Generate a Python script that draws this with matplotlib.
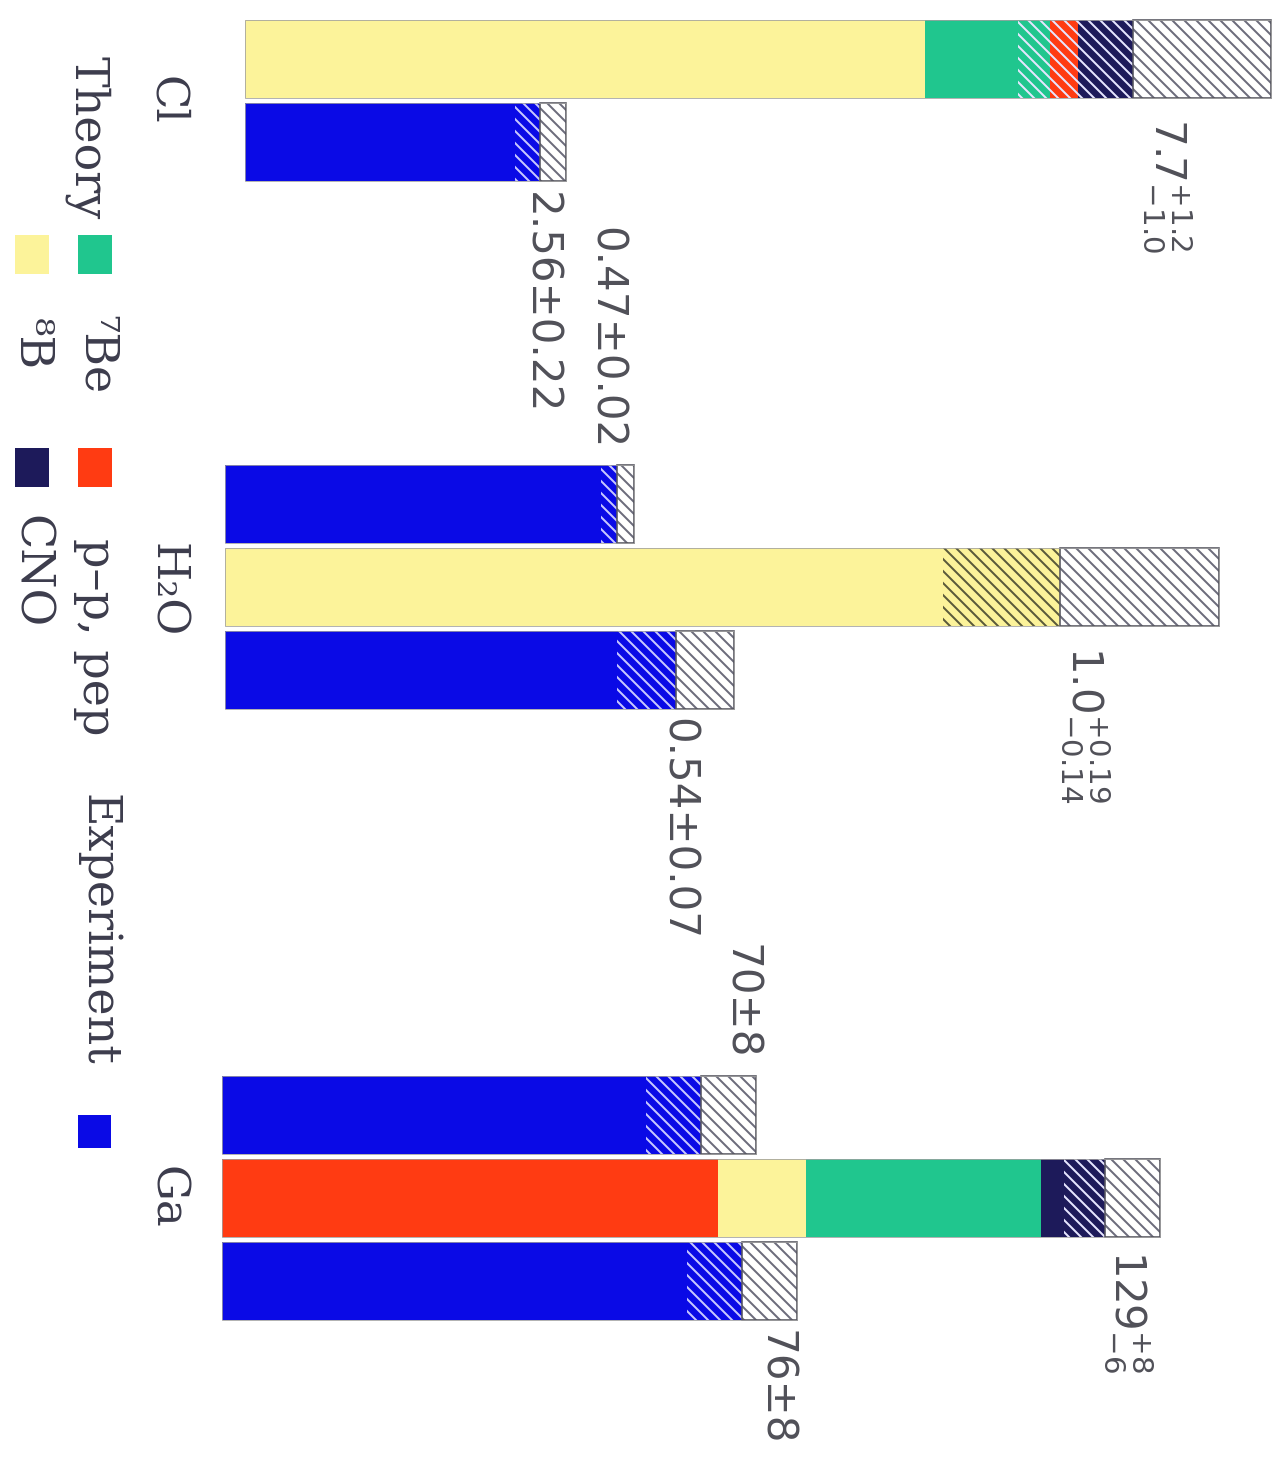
import matplotlib.pyplot as plt
from matplotlib.patches import Rectangle

W, H = 1288, 1462
DPI = 72

# neutrino source colours
colors = {'8B': '#fcf39a', '7Be': '#20c68e', 'pp': '#ff3b12', 'CNO': '#1d1a5a'}
exp_color = '#0a0ae6'

# chlorine (SNU)
cl_sources = ['8B', '7Be', 'pp', 'CNO']
cl_theory = [5.9, 1.08, 0.24, 0.48]
cl_err = (1.2, 1.0)
cl_exp = [2.56]
cl_exp_err = [0.22]
cl_labels = ['7.7$^{+1.2}_{-1.0}$', '2.56\u00b10.22']

# water Cherenkov (ratio to SSM)
h2o_sources = ['8B']
h2o_theory = [1.0]
h2o_err = (0.19, 0.14)
h2o_exp = [0.47, 0.54]
h2o_exp_err = [0.02, 0.07]
h2o_labels = ['0.47\u00b10.02', '1.0$^{+0.19}_{-0.14}$', '0.54\u00b10.07']

# gallium (SNU)
ga_sources = ['pp', '8B', '7Be', 'CNO']
ga_theory = [72.4, 12.9, 34.3, 9.4]
ga_err = (8, 6)
ga_exp = [70, 76]
ga_exp_err = [8, 8]
ga_labels = ['70\u00b18', '129$^{+8}_{-6}$', '76\u00b18']

plt.rcParams['hatch.linewidth'] = 2.0
plt.rcParams['mathtext.fontset'] = 'dejavusans'

fig = plt.figure(figsize=(W / DPI, H / DPI), dpi=DPI)
fig.patch.set_facecolor('white')

BH = 0.93
ROW_PX = 83
TXT = '#505058'
SERIF = '#3c3c4c'
HATCH = '\\\\'


def px(x, y):
    return x / W, 1 - y / H


def stacked(ax, y, sources, values, up, dn, hatch_color, face=None):
    left = 0
    for s, v in zip(sources, values):
        ax.barh(y, v, left=left, height=BH, color=face or colors[s], lw=0)
        left += v
    # lower error hatched over the top of the stack, upper error on white
    ax.barh(y, dn, left=left - dn, height=BH, facecolor='none',
            edgecolor=hatch_color, hatch=HATCH, lw=0)
    ax.barh(y, up, left=left, height=BH, facecolor='white',
            edgecolor='#6c6c7c', hatch=HATCH, lw=0)
    ax.barh(y, up, left=left, height=BH, facecolor='none',
            edgecolor='#55555f', lw=1.6)
    ax.barh(y, left + up, height=BH, facecolor='none', edgecolor='#a0a0a0', lw=0.8)
    return left


def group(rows, x0, x_end, top, total):
    n = len(rows)
    scale = (x_end - x0) / total
    ax = fig.add_axes([x0 / W, 1 - (top + n * ROW_PX) / H,
                       (W - x0) / W, n * ROW_PX / H])
    ax.set_xlim(0, (W - x0) / scale)
    ax.set_ylim(n - 0.5, -0.5)
    ax.axis('off')
    for i, row in enumerate(rows):
        kind, vals, up, dn, label, dx, side, gap = row
        if kind == 'theory':
            srcs, vs = vals
            hc = '#5a5a3a' if srcs == ['8B'] else '#e6e6ff'
            c = stacked(ax, i, srcs, vs, up, dn, hc)
        else:
            c = stacked(ax, i, ['exp'], [vals], up, dn, '#c8c8ff', face=exp_color)
        if side > 0:
            ax.annotate(label, xy=(c, i + 0.5), xytext=(dx, -gap),
                        textcoords='offset pixels', rotation=-90,
                        ha='center', va='top', fontsize=42, color=TXT)
        else:
            ax.annotate(label, xy=(c, i - 0.5), xytext=(dx, gap),
                        textcoords='offset pixels', rotation=-90,
                        ha='center', va='bottom', fontsize=42, color=TXT)


group([('theory', (cl_sources, cl_theory), cl_err[0], cl_err[1], cl_labels[0], 35, 1, 18),
       ('exp', cl_exp[0], cl_exp_err[0], cl_exp_err[0], cl_labels[1], 0, 1, 8)],
      245, 1133, 17.5, sum(cl_theory))

group([('exp', h2o_exp[0], h2o_exp_err[0], h2o_exp_err[0], h2o_labels[0], -12, -1, 13),
       ('theory', (h2o_sources, h2o_theory), h2o_err[0], h2o_err[1], h2o_labels[1], 25, 1, 18),
       ('exp', h2o_exp[1], h2o_exp_err[1], h2o_exp_err[1], h2o_labels[2], 2, 1, 6)],
      225, 1060, 462.5, sum(h2o_theory))

group([('exp', ga_exp[0], ga_exp_err[0], ga_exp_err[0], ga_labels[0], 39, -1, 14),
       ('theory', (ga_sources, ga_theory), ga_err[0], ga_err[1], ga_labels[1], 23, 1, 10),
       ('exp', ga_exp[1], ga_exp_err[1], ga_exp_err[1], ga_labels[2], 33, 1, 8)],
      222, 1105, 1073.5, sum(ga_theory))

# detector names
for name, yc in [('Cl', 100), ('H\u2082O', 590), ('Ga', 1197)]:
    fig.text(*px(167, yc), name, rotation=-90, ha='center', va='center',
             fontsize=45, family='DejaVu Serif', color=SERIF)

# key
for key, x, y in [('7Be', 78, 235), ('8B', 15, 235), ('pp', 78, 448), ('CNO', 15, 448)]:
    fig.add_artist(Rectangle(px(x, y + 39), 34 / W, 39 / H,
                             transform=fig.transFigure, color=colors[key], lw=0))
fig.add_artist(Rectangle(px(78, 1148), 33 / W, 33 / H,
                         transform=fig.transFigure, color=exp_color, lw=0))

for txt, x, y in [('Theory', 87, 138), ('\u2077Be', 96, 355), ('\u2078B', 31, 344),
                  ('p\u2013p, pep', 96, 637), ('CNO', 31, 572), ('Experiment', 98, 930)]:
    fig.text(*px(x, y), txt, rotation=-90, ha='center', va='center',
             fontsize=46, family='DejaVu Serif', color=SERIF)

fig.savefig('out.png', dpi=DPI, facecolor='white')
